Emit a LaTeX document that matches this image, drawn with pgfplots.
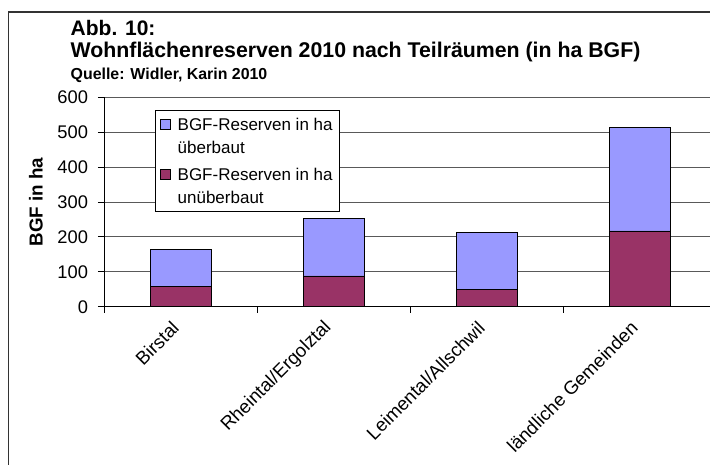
\documentclass[border=0pt]{standalone}
\usepackage{fontspec}
\setmainfont{Liberation Sans}
\usepackage{pgfplots}
\pgfplotsset{compat=1.18}
\definecolor{cblue}{HTML}{9999FF}
\definecolor{cpurple}{HTML}{993366}
\begin{document}
\begin{tikzpicture}
\useasboundingbox (0pt,0pt) rectangle (710pt,-464pt);
\clip (0pt,0pt) rectangle (710pt,-464pt);
\draw[black!80, line width=1.3pt] (8.3pt,-12pt) rectangle (740pt,-500pt);
\node[anchor=base west, inner sep=0pt, font=\fontsize{21}{21}\selectfont\bfseries] at (70.5pt,-35pt) {Abb. 10:};
\node[anchor=base west, inner sep=0pt, font=\fontsize{21.3}{21.3}\selectfont\bfseries] at (70.5pt,-57.3pt) {Wohnflächenreserven 2010 nach Teilräumen (in ha BGF)};
\node[anchor=base west, inner sep=0pt, font=\fontsize{15.9}{15.9}\selectfont\bfseries] at (70.5pt,-79.3pt) {Quelle: Widler, Karin 2010};
\begin{axis}[
  at={(104pt,-306.7pt)}, anchor=south west,
  scale only axis, width=612pt, height=209.4pt,
  xmin=-0.5, xmax=3.5, ymin=0, ymax=600,
  ybar stacked, bar width=61pt,
  axis x line*=bottom, axis y line*=left,
  axis line style={black, line width=0.9pt},
  ymajorgrids, grid style={black!65, line width=0.9pt},
  ytick={0,100,...,600},
  tick align=outside, major tick length=6pt, minor tick length=6pt,
  xtick={0,1,2,3},
  xticklabels={Birstal,Rheintal/Ergolztal,Leimental/Allschwil,ländliche Gemeinden},
  minor xtick={-0.5,0.5,1.5,2.5,3.5},
  major x tick style={draw=none},
  minor x tick style={black, line width=0.9pt},
  ytick style={black, line width=0.9pt},
  /pgf/number format/assume math mode=true,
  yticklabel style={font=\fontsize{18.3}{18.3}\selectfont, xshift=-6.5pt},
  xticklabel style={font=\fontsize{18.7}{18.7}\selectfont, inner sep=0pt, xshift=-5pt, yshift=-12pt, rotate=45, anchor=east},
  ylabel={BGF in ha},
  ylabel style={font=\fontsize{18.8}{18.8}\selectfont\bfseries, at={(axis description cs:-0.1111,0.5)}, anchor=center},
  reverse legend,
  legend image code/.code={\draw[#1, draw=black, line width=0.7pt] (0pt,1pt) rectangle (10pt,11pt);},
  legend cell align=left,
  legend style={at={(axis description cs:0.0833,0.9394)}, anchor=north west,
    draw=black, line width=0.8pt, fill=white, inner xsep=5pt, inner ysep=8pt,
    row sep=15.3pt, column sep=6.6pt,
    cells={anchor=base west},
    nodes={inner sep=0pt, text height=12.4pt, text depth=22.3pt, font=\fontsize{17}{22.3}\selectfont}},
]
\addplot[fill=cpurple, draw=black, line width=0.9pt] coordinates {(0,57) (1,88) (2,50) (3,217)};
\addplot[fill=cblue, draw=black, line width=0.9pt] coordinates {(0,107) (1,164) (2,162) (3,297)};
\legend{{\parbox[t]{157pt}{BGF-Reserven in ha\\unüberbaut}},{\parbox[t]{157pt}{BGF-Reserven in ha\\überbaut}}}
\end{axis}
\end{tikzpicture}
\end{document}
